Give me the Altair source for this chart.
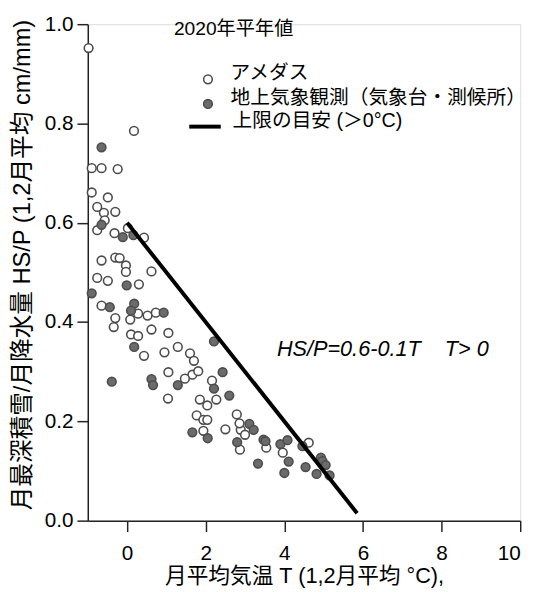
import altair as alt
import pandas as pd

# ---- data ----
amedas_t = [-0.98, 0.175, -0.90, -0.65, -0.24, -0.90, -0.49, -0.76, -0.59, -0.30,
            -0.57, -0.76, -0.32, 0.02, 0.43, -0.65, -0.30, -0.19, -0.03, -0.03,
            0.62, -0.76, -0.49, 0.30, -0.65, 0.28, 0.52, 0.73, -0.30, 0.08,
            -0.34, 0.62, 1.05, 0.10, 0.28, 1.29, 0.95, 0.43, 1.60, 1.70,
            1.05, 1.66, 1.81, 1.47, 2.16, 1.04, 1.85, 2.27, 2.04, 1.77,
            1.94, 2.04, 1.94, 2.50, 2.79, 2.89, 2.86, 2.87, 3.00, 3.54,
            3.96, 4.62]
amedas_r = [0.952, 0.785, 0.710, 0.710, 0.708, 0.661, 0.651, 0.632, 0.620, 0.622,
            0.605, 0.585, 0.579, 0.589, 0.570, 0.524, 0.530, 0.529, 0.514, 0.501,
            0.502, 0.489, 0.483, 0.476, 0.433, 0.417, 0.413, 0.419, 0.408, 0.405,
            0.390, 0.385, 0.378, 0.375, 0.372, 0.350, 0.339, 0.332, 0.337, 0.322,
            0.299, 0.294, 0.301, 0.286, 0.282, 0.246, 0.244, 0.244, 0.232, 0.212,
            0.203, 0.203, 0.181, 0.184, 0.214, 0.183, 0.196, 0.143, 0.173, 0.147,
            0.137, 0.157]

station_t = [-0.65, -0.65, -0.11, 0.16, -0.01, -0.90, -0.44, 0.18, 0.10, 0.93,
             2.21, 0.18, 2.43, -0.39, 0.62, 0.66, 1.29, 2.21, 2.60, 1.66,
             2.05, 3.11, 3.22, 2.80, 3.47, 3.52, 3.33, 3.90, 4.08, 4.11,
             4.00, 4.46, 4.54, 4.93, 4.97, 5.05, 4.82, 5.15]
station_r = [0.752, 0.596, 0.571, 0.575, 0.474, 0.458, 0.430, 0.437, 0.423, 0.419,
             0.361, 0.350, 0.299, 0.280, 0.285, 0.273, 0.273, 0.266, 0.252, 0.178,
             0.166, 0.195, 0.183, 0.158, 0.163, 0.160, 0.115, 0.154, 0.162, 0.119,
             0.096, 0.150, 0.108, 0.127, 0.120, 0.112, 0.094, 0.091]

line_t = [0.0, 5.85]
line_r = [0.6, 0.015]

series_names = ["アメダス", "地上気象観測（気象台・測候所）"]
line_name = "上限の目安 (＞0°C)"

x_ticks = [0, 2, 4, 6, 8, 10]
y_ticks = [0.0, 0.2, 0.4, 0.6, 0.8, 1.0]

head_text = ["2020年平年値"]
head_t = [1.19]
head_r = [0.978]

formula_text = ["HS/P=0.6-0.1T", "T> 0"]
formula_t = [3.81, 8.08]
formula_r = [0.332, 0.332]

FONT = "Liberation Sans, Noto Sans CJK JP"

# ---- tables ----
pts = pd.DataFrame({
    "T": amedas_t + station_t,
    "R": amedas_r + station_r,
    "系列": [series_names[0]] * len(amedas_t) + [series_names[1]] * len(station_t),
})
line_df = pd.DataFrame({"T": line_t, "R": line_r, "label": [line_name] * len(line_t)})
head_df = pd.DataFrame({"T": head_t, "R": head_r, "text": head_text})
formula_df = pd.DataFrame({"T": formula_t, "R": formula_r, "text": formula_text})

xscale = alt.Scale(domain=[-1, 10], nice=False, zero=False)
yscale = alt.Scale(domain=[0, 1], nice=False, zero=False)

xaxis = alt.Axis(values=x_ticks, format="d", title="月平均気温 T (1,2月平均 °C),",
                 tickSize=11, labelPadding=11, titlePadding=3, grid=False,
                 domainColor="#222", tickColor="#222", domainWidth=1.5, tickWidth=1.5,
                 labelFontSize=21, titleFontSize=22, labelColor="black", titleColor="black",
                 titleFontWeight="normal", labelFont=FONT, titleFont=FONT)
yaxis = alt.Axis(values=y_ticks, format=".1f",
                 title="月最深積雪/月降水量 HS/P (1,2月平均 cm/mm)",
                 tickSize=11, labelPadding=4, titlePadding=10, titleY=244, grid=False,
                 domainColor="#222", tickColor="#222", domainWidth=1.5, tickWidth=1.5,
                 labelFontSize=21, titleFontSize=24, labelColor="black", titleColor="black",
                 titleFontWeight="normal", labelFont=FONT, titleFont=FONT)

points = alt.Chart(pts).mark_point(
    shape="circle", filled=True, size=78, stroke="#4d4d4d", strokeWidth=1.6,
    opacity=1, fillOpacity=1
).encode(
    x=alt.X("T:Q", scale=xscale, axis=xaxis),
    y=alt.Y("R:Q", scale=yscale, axis=yaxis),
    fill=alt.Fill("系列:N",
                  scale=alt.Scale(domain=series_names, range=["white", "#6b6b6b"]),
                  legend=alt.Legend(title=None, orient="none", legendX=112, legendY=46,
                                    symbolType="circle", symbolSize=78,
                                    symbolStrokeColor="#4d4d4d", symbolStrokeWidth=1.6,
                                    labelBaseline="alphabetic",
                                    labelFontSize=20, labelFont=FONT, labelColor="black",
                                    labelOffset=13, rowPadding=1, padding=0, labelLimit=500)),
)

line = alt.Chart(line_df).mark_line(strokeWidth=4).encode(
    x=alt.X("T:Q", scale=xscale),
    y=alt.Y("R:Q", scale=yscale),
    stroke=alt.Stroke("label:N",
                      scale=alt.Scale(domain=[line_name], range=["black"]),
                      legend=alt.Legend(title=None, orient="none", legendX=101, legendY=86,
                                        symbolType="stroke", symbolSize=1024,
                                        symbolStrokeWidth=4, labelBaseline="alphabetic",
                                        labelFontSize=20, labelFont=FONT, labelColor="black",
                                        labelOffset=10, padding=0, labelLimit=500)),
)

head = alt.Chart(head_df).mark_text(
    align="left", baseline="alphabetic", fontSize=19.5, font=FONT, color="black"
).encode(x=alt.X("T:Q", scale=xscale), y=alt.Y("R:Q", scale=yscale), text="text:N")

formula = alt.Chart(formula_df).mark_text(
    align="left", baseline="alphabetic", fontSize=22, font=FONT, fontStyle="italic",
    color="black"
).encode(x=alt.X("T:Q", scale=xscale), y=alt.Y("R:Q", scale=yscale), text="text:N")

chart = alt.layer(points, line, head, formula).properties(
    width=439, height=504,
    autosize=alt.AutoSizeParams(type="none"),
    padding={"left": 81, "top": 12, "right": 15, "bottom": 68},
).configure_view(stroke=None).configure(background="white")

chart.save("out.html", embed_options={"renderer": "svg", "actions": False})
